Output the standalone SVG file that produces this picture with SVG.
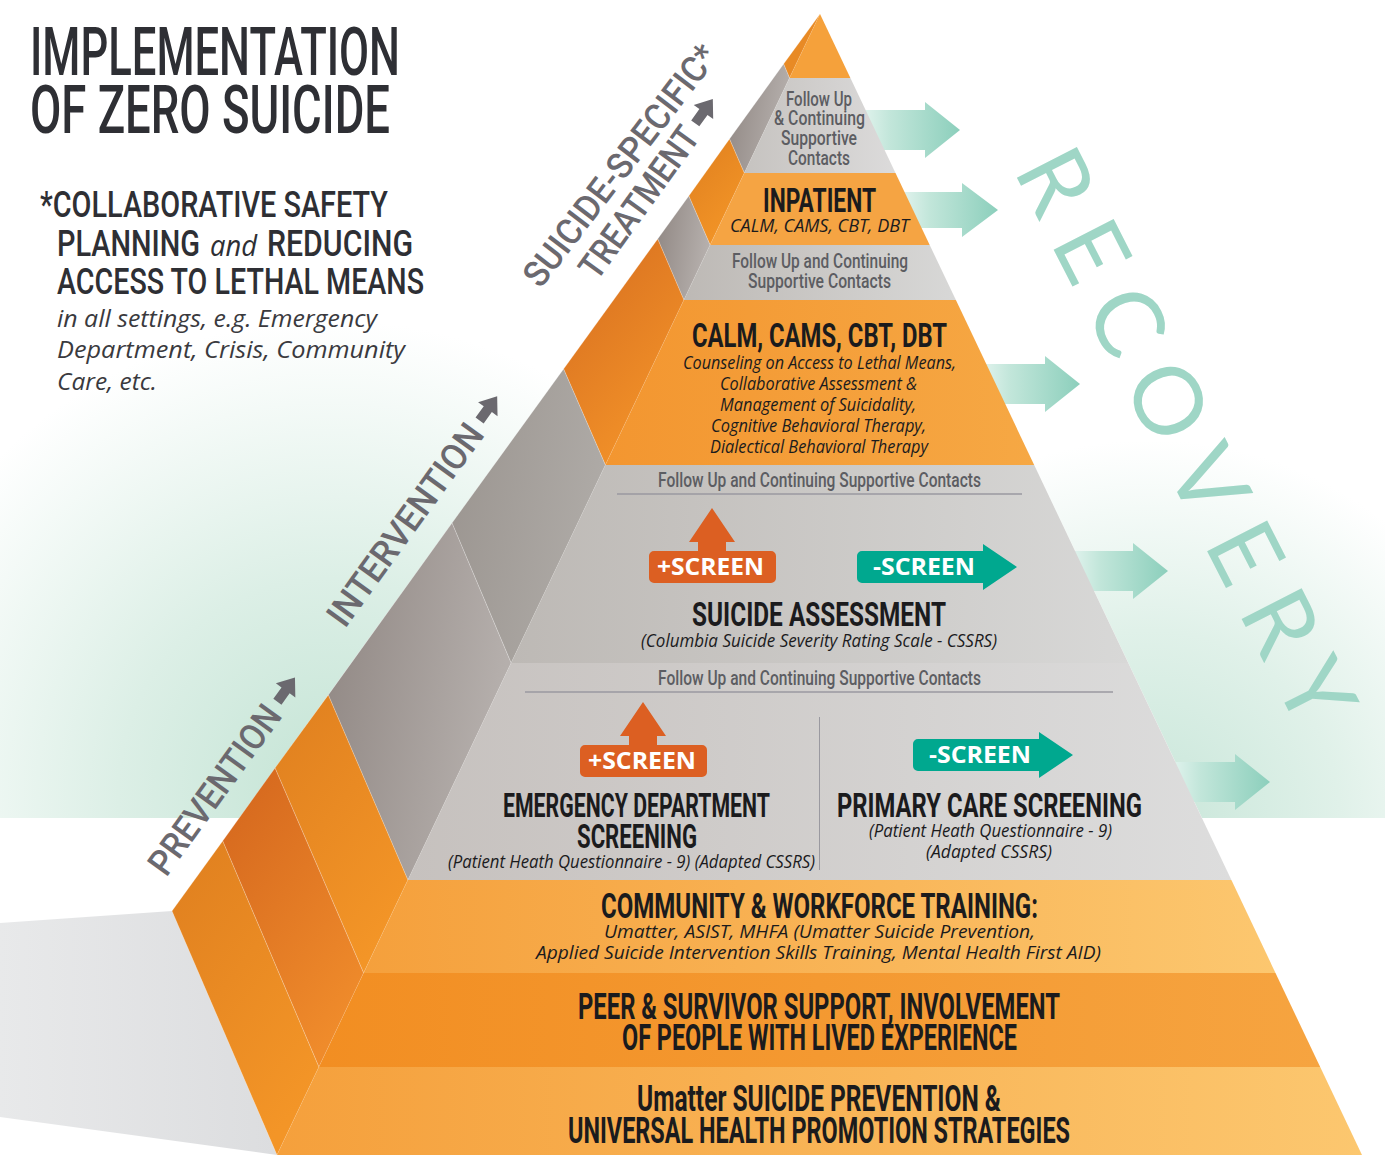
<svg xmlns="http://www.w3.org/2000/svg" width="1385" height="1155" viewBox="0 0 1385 1155">
<defs>
<style>
.hd{font-family:Roboto,"Liberation Sans",sans-serif;font-weight:700;fill:#1b1b1d}
.gr{font-family:Roboto,"Liberation Sans",sans-serif;font-weight:500;fill:#5c5d62}
.it{font-family:"Open Sans","Liberation Sans",sans-serif;font-style:italic;fill:#1b1b1d}
.tt{font-family:Roboto,"Liberation Sans",sans-serif;font-weight:500;fill:#2e2f34}
.lb{font-family:Roboto,"Liberation Sans",sans-serif;font-weight:500;fill:#6b696f;font-size:36px}
.sc{font-family:"Open Sans","Liberation Sans",sans-serif;font-weight:700;fill:#ffffff;font-size:24px}
.sd{stroke:#ffffff;stroke-opacity:0.25;stroke-width:0.8}
.rule{stroke:#9a99a0;stroke-width:1.5}
</style>
<radialGradient id="bgL" gradientUnits="userSpaceOnUse" cx="330" cy="790" r="470"><stop offset="0" stop-color="#c4e4d5"/><stop offset="0.45" stop-color="#dcefe6"/><stop offset="1" stop-color="#ffffff"/></radialGradient>
<radialGradient id="bgR" gradientUnits="userSpaceOnUse" cx="1150" cy="820" r="380"><stop offset="0" stop-color="#c8e6d9"/><stop offset="0.5" stop-color="#e0f1e9"/><stop offset="1" stop-color="#ffffff"/></radialGradient>
<linearGradient id="shadow" x1="0" x2="1" y1="0" y2="0"><stop offset="0" stop-color="#e8e9ea"/><stop offset="1" stop-color="#dcdddf"/></linearGradient>
<linearGradient id="mint" x1="0" x2="1" y1="0" y2="0"><stop offset="0" stop-color="#e4f4ef"/><stop offset="0.3" stop-color="#c2e6da"/><stop offset="1" stop-color="#8ccfbc"/></linearGradient>
<linearGradient id="fGrey1" x1="0" x2="1"><stop offset="0" stop-color="#c6c3c0"/><stop offset="1" stop-color="#dcdbdb"/></linearGradient>
<linearGradient id="fGrey2" x1="0" x2="1"><stop offset="0" stop-color="#bdb9b5"/><stop offset="1" stop-color="#d8d8d7"/></linearGradient>
<linearGradient id="fGrey3" x1="0" x2="1"><stop offset="0" stop-color="#c6c1be"/><stop offset="1" stop-color="#dddddd"/></linearGradient>
<linearGradient id="fOr1" x1="0" x2="1"><stop offset="0" stop-color="#f39630"/><stop offset="1" stop-color="#f6a844"/></linearGradient>
<linearGradient id="fOr2" x1="0" x2="1"><stop offset="0" stop-color="#f5a03c"/><stop offset="1" stop-color="#fcc76f"/></linearGradient>
<linearGradient id="fOr3" x1="0" x2="1"><stop offset="0" stop-color="#f28e22"/><stop offset="1" stop-color="#f6a440"/></linearGradient>
<linearGradient id="sOrA" x1="0" y1="0" x2="0.6" y2="1"><stop offset="0" stop-color="#df7f1f"/><stop offset="1" stop-color="#f39527"/></linearGradient>
<linearGradient id="sOrB" x1="0" y1="0" x2="0.6" y2="1"><stop offset="0" stop-color="#d3651d"/><stop offset="1" stop-color="#ef8b2b"/></linearGradient>
<linearGradient id="sOrC" x1="0" y1="0" x2="0.6" y2="1"><stop offset="0" stop-color="#d56c1f"/><stop offset="1" stop-color="#f39329"/></linearGradient>
<linearGradient id="sGrA" x1="0" y1="0" x2="1" y2="0.3"><stop offset="0" stop-color="#8f8682"/><stop offset="1" stop-color="#b5afac"/></linearGradient>
<linearGradient id="sGrB" x1="0" y1="0" x2="1" y2="0.3"><stop offset="0" stop-color="#9a948f"/><stop offset="1" stop-color="#aeaaa6"/></linearGradient>
</defs>
<rect width="1385" height="1155" fill="#ffffff"/>

<g id="background">
<polygon points="0,300 613,300 239.5,818 0,818" fill="url(#bgL)"/>
<polygon points="956,300 1385,300 1385,818 1202,818" fill="url(#bgR)"/>
<polygon points="0,923 172,911 277,1155 0,1117" fill="url(#shadow)"/>
</g>

<g id="connectors">
<path d="M860,110 H925 V102 L960,130 L925,158 V150 H860 Z" fill="url(#mint)"/>
<path d="M900,192 H962 V183 L998,210 L962,237 V228 H900 Z" fill="url(#mint)"/>
<path d="M980,364 H1045 V356 L1080,384 L1045,412 V404 H980 Z" fill="url(#mint)"/>
<path d="M1070,551 H1133 V543 L1168,571 L1133,599 V591 H1070 Z" fill="url(#mint)"/>
<path d="M1170,762 H1235 V754 L1270,782 L1235,810 V802 H1170 Z" fill="url(#mint)"/>
</g>

<g id="pyramid">
<g id="tier-tip">
<polygon class="sd" points="820,14 789.5,78 783.6,64" fill="#e88a25"/>
<polygon points="820,14 850.4,78 789.5,78" fill="#f5a13b"/>
</g>
<g id="tier-followup-top">
<polygon class="sd" points="783.6,64 789.5,78 744.3,173 729.5,139" fill="url(#sGrA)"/>
<polygon points="789.5,78 850.4,78 895.5,173 744.3,173" fill="url(#fGrey1)"/>
<text class="gr" font-size="21" x="786" y="106" textLength="66" lengthAdjust="spacingAndGlyphs">Follow Up</text>
<text class="gr" font-size="21" x="774" y="125" textLength="91" lengthAdjust="spacingAndGlyphs">&amp; Continuing</text>
<text class="gr" font-size="21" x="781" y="145" textLength="76" lengthAdjust="spacingAndGlyphs">Supportive</text>
<text class="gr" font-size="21" x="788" y="165" textLength="62" lengthAdjust="spacingAndGlyphs">Contacts</text>
</g>
<g id="tier-inpatient">
<polygon class="sd" points="729.5,139 744.3,173 710.1,245 688.8,196" fill="url(#sOrA)"/>
<polygon points="744.3,173 895.5,173 929.7,245 710.1,245" fill="#f5a443"/>
<text class="hd" font-size="34" x="763" y="212" textLength="113" lengthAdjust="spacingAndGlyphs">INPATIENT</text>
<text class="it" font-size="18" x="730" y="232" textLength="179" lengthAdjust="spacingAndGlyphs">CALM, CAMS, CBT, DBT</text>
</g>
<g id="tier-followup-2">
<polygon class="sd" points="688.8,196 710.1,245 683.9,300 657.7,239" fill="url(#sGrA)"/>
<polygon points="710.1,245 929.7,245 955.9,300 683.9,300" fill="url(#fGrey2)"/>
<text class="gr" font-size="21" x="732" y="268" textLength="176" lengthAdjust="spacingAndGlyphs">Follow Up and Continuing</text>
<text class="gr" font-size="21" x="748" y="288" textLength="143" lengthAdjust="spacingAndGlyphs">Supportive Contacts</text>
</g>
<g id="tier-calm">
<polygon class="sd" points="657.7,239 683.9,300 605.4,465 563.6,369" fill="url(#sOrC)"/>
<polygon points="683.9,300 955.9,300 1034.2,465 605.4,465" fill="url(#fOr1)"/>
<text class="hd" font-size="34" x="692" y="347" textLength="255" lengthAdjust="spacingAndGlyphs">CALM, CAMS, CBT, DBT</text>
<text class="it" font-size="17.5" x="683" y="369" textLength="273" lengthAdjust="spacingAndGlyphs">Counseling on Access to Lethal Means,</text>
<text class="it" font-size="17.5" x="720" y="390" textLength="197" lengthAdjust="spacingAndGlyphs">Collaborative Assessment &amp;</text>
<text class="it" font-size="17.5" x="720" y="411" textLength="196" lengthAdjust="spacingAndGlyphs">Management of Suicidality,</text>
<text class="it" font-size="17.5" x="711" y="432" textLength="215" lengthAdjust="spacingAndGlyphs">Cognitive Behavioral Therapy,</text>
<text class="it" font-size="17.5" x="710" y="453" textLength="218" lengthAdjust="spacingAndGlyphs">Dialectical Behavioral Therapy</text>
</g>
<g id="tier-assessment">
<polygon class="sd" points="563.6,369 605.4,465 511.1,663 452,523" fill="url(#sGrB)"/>
<polygon points="605.4,465 1034.2,465 1128.3,663 511.1,663" fill="url(#fGrey2)"/>
<text class="gr" font-size="21" x="658" y="487" textLength="323" lengthAdjust="spacingAndGlyphs">Follow Up and Continuing Supportive Contacts</text>
<line class="rule" x1="617" y1="494" x2="1022" y2="494"/>
<text class="hd" font-size="33" x="692" y="626" textLength="254" lengthAdjust="spacingAndGlyphs">SUICIDE ASSESSMENT</text>
<text class="it" font-size="18" x="641" y="647" textLength="356" lengthAdjust="spacingAndGlyphs">(Columbia Suicide Severity Rating Scale - CSSRS)</text>
</g>
<g id="tier-screening">
<polygon class="sd" points="452,523 511.1,663 407.9,880 328.3,695" fill="url(#sGrA)"/>
<polygon points="511.1,663 1128.3,663 1231.4,880 407.9,880" fill="url(#fGrey3)"/>
<text class="gr" font-size="21" x="658" y="685" textLength="323" lengthAdjust="spacingAndGlyphs">Follow Up and Continuing Supportive Contacts</text>
<line class="rule" x1="525" y1="692" x2="1113" y2="692"/>
<line x1="819.5" y1="717" x2="819.5" y2="870" stroke="#9a99a0" stroke-width="1"/>
<text class="hd" font-size="34" x="503" y="817" textLength="267" lengthAdjust="spacingAndGlyphs">EMERGENCY DEPARTMENT</text>
<text class="hd" font-size="34" x="577" y="848" textLength="120" lengthAdjust="spacingAndGlyphs">SCREENING</text>
<text class="it" font-size="18" x="448" y="868" textLength="367" lengthAdjust="spacingAndGlyphs">(Patient Heath Questionnaire - 9) (Adapted CSSRS)</text>
<text class="hd" font-size="34" x="837" y="817" textLength="305" lengthAdjust="spacingAndGlyphs">PRIMARY CARE SCREENING</text>
<text class="it" font-size="18" x="869" y="837" textLength="243" lengthAdjust="spacingAndGlyphs">(Patient Heath Questionnaire - 9)</text>
<text class="it" font-size="18" x="926" y="858" textLength="126" lengthAdjust="spacingAndGlyphs">(Adapted CSSRS)</text>
</g>
<g id="tier-community">
<polygon class="sd" points="328.3,695 407.9,880 363.6,973 275,768" fill="url(#sOrA)"/>
<polygon points="407.9,880 1231.4,880 1275.5,973 363.6,973" fill="url(#fOr2)"/>
<text class="hd" font-size="35" x="601" y="918" textLength="437" lengthAdjust="spacingAndGlyphs">COMMUNITY &amp; WORKFORCE TRAINING:</text>
<text class="it" font-size="19" x="604" y="938" textLength="431" lengthAdjust="spacingAndGlyphs">Umatter, ASIST, MHFA (Umatter Suicide Prevention,</text>
<text class="it" font-size="19" x="536" y="959" textLength="565" lengthAdjust="spacingAndGlyphs">Applied Suicide Intervention Skills Training, Mental Health First AID)</text>
</g>
<g id="tier-peer">
<polygon class="sd" points="275,768 363.6,973 318.9,1067 222.7,841" fill="url(#sOrB)"/>
<polygon points="363.6,973 1275.5,973 1320.2,1067 318.9,1067" fill="url(#fOr3)"/>
<text class="hd" font-size="36" x="578" y="1019" textLength="482" lengthAdjust="spacingAndGlyphs">PEER &amp; SURVIVOR SUPPORT, INVOLVEMENT</text>
<text class="hd" font-size="36" x="622" y="1050" textLength="395" lengthAdjust="spacingAndGlyphs">OF PEOPLE WITH LIVED EXPERIENCE</text>
</g>
<g id="tier-umatter">
<polygon class="sd" points="222.7,841 318.9,1067 277,1155 172,911" fill="url(#sOrA)"/>
<polygon points="318.9,1067 1320.2,1067 1362,1155 277,1155" fill="url(#fOr2)"/>
<text class="hd" font-size="36" x="637" y="1111" textLength="364" lengthAdjust="spacingAndGlyphs">Umatter SUICIDE PREVENTION &amp;</text>
<text class="hd" font-size="36" x="568" y="1143" textLength="502" lengthAdjust="spacingAndGlyphs">UNIVERSAL HEALTH PROMOTION STRATEGIES</text>
</g>
</g>

<g id="screen-badges">
<g id="plus-screen-assessment">
<path d="M649,556 a5,5 0 0 1 5,-5 H698 V542 H689 L712,508 L735,542 H726 V551 H771 a5,5 0 0 1 5,5 V578 a5,5 0 0 1 -5,5 H654 a5,5 0 0 1 -5,-5 Z" fill="#dc5f22"/>
<text class="sc" x="657" y="575" textLength="107" lengthAdjust="spacingAndGlyphs">+SCREEN</text>
</g>
<g id="minus-screen-assessment">
<path d="M862,551 H983 V544 L1017,567 L983,590 V583 H862 a5,5 0 0 1 -5,-5 V556 a5,5 0 0 1 5,-5 Z" fill="#00a88f"/>
<text class="sc" x="873" y="575" textLength="102" lengthAdjust="spacingAndGlyphs">-SCREEN</text>
</g>
<g id="plus-screen-ed" transform="translate(-69,194)">
<path d="M649,556 a5,5 0 0 1 5,-5 H698 V542 H689 L712,508 L735,542 H726 V551 H771 a5,5 0 0 1 5,5 V578 a5,5 0 0 1 -5,5 H654 a5,5 0 0 1 -5,-5 Z" fill="#dc5f22"/>
<text class="sc" x="657" y="575" textLength="108" lengthAdjust="spacingAndGlyphs">+SCREEN</text>
</g>
<g id="minus-screen-pc" transform="translate(56,188)">
<path d="M862,551 H983 V544 L1017,567 L983,590 V583 H862 a5,5 0 0 1 -5,-5 V556 a5,5 0 0 1 5,-5 Z" fill="#00a88f"/>
<text class="sc" x="873" y="575" textLength="102" lengthAdjust="spacingAndGlyphs">-SCREEN</text>
</g>
</g>

<g id="title">
<text class="tt" font-size="67" x="30" y="75" textLength="370" lengthAdjust="spacingAndGlyphs">IMPLEMENTATION</text>
<text class="tt" font-size="67" x="30" y="133" textLength="360" lengthAdjust="spacingAndGlyphs">OF ZERO SUICIDE</text>
</g>
<g id="footnote">
<text class="tt" font-size="37" x="40" y="217" textLength="348" lengthAdjust="spacingAndGlyphs">*COLLABORATIVE SAFETY</text>
<text class="tt" font-size="37" x="57" y="256" textLength="143" lengthAdjust="spacingAndGlyphs">PLANNING</text>
<text font-family="'Open Sans','Liberation Sans',sans-serif" font-style="italic" fill="#2e2f34" font-size="30" x="210" y="256" textLength="47" lengthAdjust="spacingAndGlyphs">and</text>
<text class="tt" font-size="37" x="267" y="256" textLength="146" lengthAdjust="spacingAndGlyphs">REDUCING</text>
<text class="tt" font-size="37" x="57" y="294" textLength="367" lengthAdjust="spacingAndGlyphs">ACCESS TO LETHAL MEANS</text>
<text class="it" style="fill:#3a3a3e" font-size="24" x="57" y="327" textLength="320" lengthAdjust="spacingAndGlyphs">in all settings, e.g. Emergency</text>
<text class="it" style="fill:#3a3a3e" font-size="24" x="57" y="358" textLength="348" lengthAdjust="spacingAndGlyphs">Department, Crisis, Community</text>
<text class="it" style="fill:#3a3a3e" font-size="24" x="57" y="390" textLength="100" lengthAdjust="spacingAndGlyphs">Care, etc.</text>
</g>

<g id="side-labels">
<g id="label-prevention" transform="translate(224.7,796.9) rotate(-54.16)">
<text class="lb" x="0" y="0" text-anchor="middle" textLength="200" lengthAdjust="spacingAndGlyphs">PREVENTION</text>
<path d="M108,-18 H122 V-25 L138,-13 L122,-1 V-8 H108 Z" fill="#6b696f"/>
</g>
<g id="label-intervention" transform="translate(415.2,531.9) rotate(-54.16)">
<text class="lb" x="0" y="0" text-anchor="middle" textLength="240" lengthAdjust="spacingAndGlyphs">INTERVENTION</text>
<path d="M128,-18 H142 V-25 L158,-13 L142,-1 V-8 H128 Z" fill="#6b696f"/>
</g>
<g id="label-treatment">
<text class="lb" transform="translate(630,173) rotate(-52.5)" x="0" y="0" text-anchor="middle" textLength="294" lengthAdjust="spacingAndGlyphs">SUICIDE-SPECIFIC*</text>
<g transform="translate(649,209.6) rotate(-54.16)">
<text class="lb" x="0" y="0" text-anchor="middle" textLength="178" lengthAdjust="spacingAndGlyphs">TREATMENT</text>
<path d="M97,-18 H111 V-25 L127,-13 L111,-1 V-8 H97 Z" fill="#6b696f"/>
</g>
</g>
</g>

<g id="recovery">
<text transform="translate(1013,170) rotate(63)" x="0" y="0" font-family="Lato,'Open Sans',sans-serif" font-weight="400" font-size="94" fill="#9fd6c6" textLength="632" lengthAdjust="spacing">RECOVERY</text>
</g>
</svg>
